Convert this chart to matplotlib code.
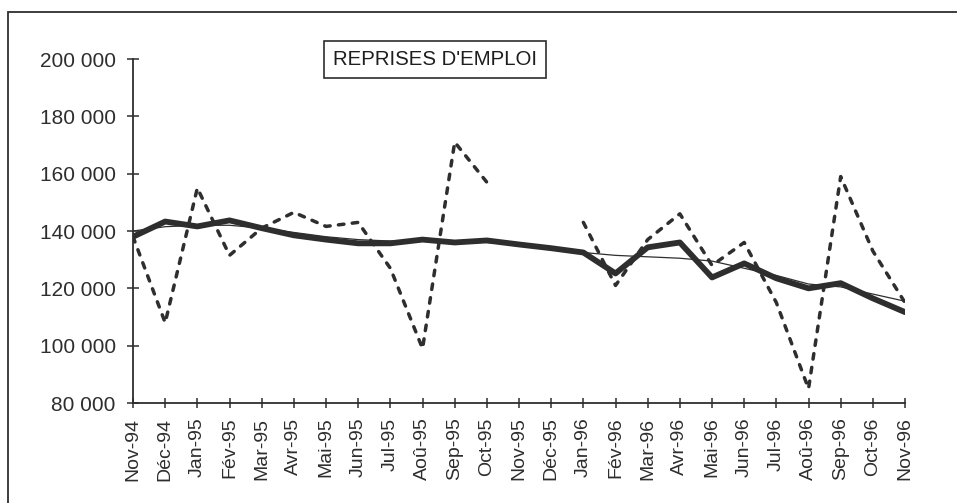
import numpy as np
import matplotlib
matplotlib.use("Agg")
import matplotlib.pyplot as plt
from matplotlib.patches import Rectangle
from matplotlib.ticker import FuncFormatter

plt.rcParams['font.family'] = ['Liberation Sans', 'DejaVu Sans']

# Mois (Nov-94 .. Nov-96)
months = ["Nov-94", "Déc-94", "Jan-95", "Fév-95", "Mar-95", "Avr-95", "Mai-95",
          "Jun-95", "Jul-95", "Aoû-95", "Sep-95", "Oct-95", "Nov-95", "Déc-95",
          "Jan-96", "Fév-96", "Mar-96", "Avr-96", "Mai-96", "Jun-96", "Jul-96",
          "Aoû-96", "Sep-96", "Oct-96", "Nov-96"]

# brut (pointillé) - Nov-95 et Déc-95 absents
raw = [138000, 108000, 155000, 131500, 141000, 146500, 141600,
       143000, 127000, 99000, 171000, 157000, np.nan, np.nan,
       143000, 121000, 137000, 146000, 128000, 136000, 115000,
       85000, 159000, 133000, 115000]

# série lissée (trait épais)
smooth = [138000, 143300, 141600, 143700, 141000, 138500, 137000,
          135700, 135700, 137000, 136000, 136700, 135300, 134000,
          132500, 125200, 134300, 136000, 123800, 128700, 123500,
          120000, 121800, 116500, 111700]

# tendance (trait fin)
trend = [140000, 141500, 142000, 142000, 141000, 139500, 138000,
         137000, 136500, 136500, 136500, 136000, 135000, 134000,
         132500, 131500, 131000, 130500, 129500, 127000, 124500,
         121500, 120500, 118000, 115500]

x = np.arange(len(months))

fig = plt.figure(figsize=(9.57, 5.03), dpi=100)
ax = fig.add_axes([0.139, 0.1988, 0.8067, 0.6839])

ink = '#2e2e2e'
ax.plot(x, raw, color=ink, lw=2.5, ls=(0, (1.6, 2.4)), dash_capstyle='round')
ax.plot(x, trend, color=ink, lw=0.9)
ax.plot(x, smooth, color=ink, lw=4.2, solid_joinstyle='round',
        solid_capstyle='round')

ax.set_xlim(0, len(months) - 1)
ax.set_ylim(80000, 200000)
ax.set_yticks(np.arange(80000, 200001, 20000))
ax.yaxis.set_major_formatter(FuncFormatter(lambda v, p: f"{int(v):,}".replace(",", " ")))
ax.set_xticks(x)
ax.set_xticklabels(months, rotation=90)

for s in ['top', 'right']:
    ax.spines[s].set_visible(False)
for s in ['left', 'bottom']:
    ax.spines[s].set_linewidth(1.3)
    ax.spines[s].set_color(ink)

ax.tick_params(axis='y', direction='inout', length=9, width=1.1, colors=ink,
               labelsize=15, pad=8)
ax.tick_params(axis='x', direction='inout', length=7, width=1.1, colors=ink,
               labelsize=14, pad=7)
ax.patch.set_alpha(0)

# titre encadré
fig.text(0.4545, 0.882, "REPRISES D'EMPLOI", fontsize=14.7, color='#1e1e1e',
         ha='center', va='center',
         bbox=dict(boxstyle='square,pad=0.45', fc='white', ec=ink, lw=1.2))

# cadre extérieur (coupé à droite et en bas)
fig.add_artist(Rectangle((8 / 957, -0.2), 1.2, 1.2 - 12 / 503,
                         transform=fig.transFigure, fill=False, ec=ink, lw=1.3))

fig.savefig("out.png", dpi=100)
